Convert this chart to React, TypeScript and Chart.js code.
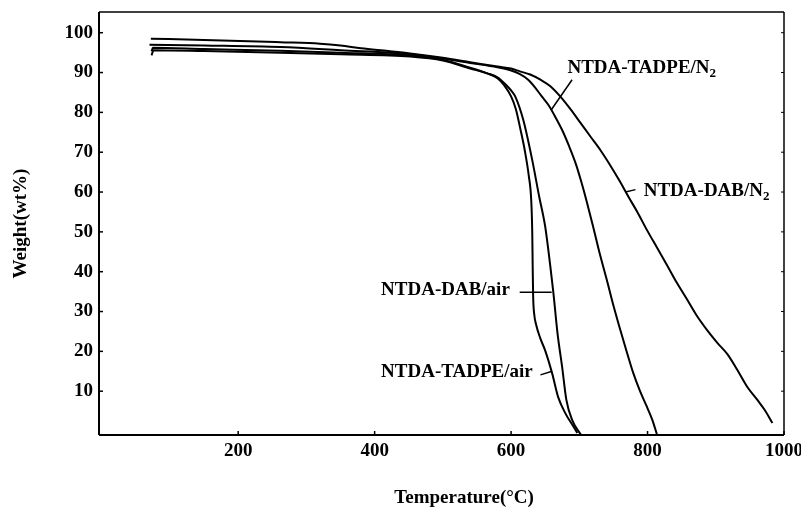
import React, { useEffect, useRef } from "react";
import { Chart, registerables } from "chart.js";

Chart.register(...registerables);

const FONT = '"Liberation Serif", "Times New Roman", serif';

// Axis ticks
const xTicks = [200, 400, 600, 800, 1000];
const yTicks = [10, 20, 30, 40, 50, 60, 70, 80, 90, 100];

// NTDA-DAB/N2
const dabN2X = [72, 150, 262, 320, 350, 380, 420, 452, 500, 540, 580, 600, 613, 628, 643, 658, 672, 687, 702, 716, 731, 745, 760, 772, 785, 799, 814, 829, 843, 858, 872, 887, 902, 917, 931, 946, 961, 972, 983];
const dabN2Y = [98.5, 98.2, 97.6, 97.25, 96.8, 96.1, 95.4, 94.8, 93.7, 92.6, 91.5, 91.0, 90.3, 89.5, 88.2, 86.5, 84.0, 80.8, 77.3, 74.0, 70.5, 66.8, 62.5, 58.8, 55.0, 50.5, 46.0, 41.5, 37.2, 33.0, 29.0, 25.4, 22.2, 19.3, 15.5, 11.1, 7.8, 5.2, 2.0];

// NTDA-TADPE/N2
const tadpeN2X = [70, 150, 262, 350, 452, 500, 540, 580, 600, 613, 625, 635, 645, 655, 665, 675, 685, 695, 703, 711, 720, 730, 741, 750, 760, 770, 779, 789, 799, 807, 814];
const tadpeN2Y = [97.0, 96.8, 96.4, 95.6, 94.6, 93.5, 92.4, 91.3, 90.5, 89.6, 88.2, 86.3, 84.0, 81.8, 78.8, 75.5, 71.5, 67.0, 62.5, 57.5, 51.5, 44.5, 37.5, 31.5, 25.4, 19.6, 14.6, 10.0, 6.1, 2.8, -1.0];

// NTDA-DAB/air
const dabAirX = [73, 75, 150, 262, 350, 452, 500, 540, 565, 580, 592, 600, 606, 618, 631, 641, 650, 657.6, 662, 668, 674.8, 681, 689.4, 702.6];
const dabAirY = [95.3, 96.2, 95.9, 95.5, 95.0, 94.3, 93.2, 91.2, 89.8, 88.8, 87.0, 85.5, 84.0, 78.0, 68.0, 59.0, 51.3, 41.2, 34.7, 24.6, 16.1, 7.8, 2.8, -1.0];

// NTDA-TADPE/air
const tadpeAirX = [73, 76, 150, 262, 350, 452, 500, 540, 565, 580, 590, 600, 607, 614, 620, 626, 629.5, 631, 631.6, 632.3, 633.8, 637, 643, 650, 660, 669, 680, 690, 697];
const tadpeAirY = [94.3, 95.6, 95.4, 95.0, 94.6, 94.0, 93.0, 91.0, 89.8, 88.6, 86.8, 84.0, 80.8, 75.5, 70.5, 64.0, 58.0, 50.0, 42.0, 34.0, 29.5, 26.5, 23.2, 20.2, 14.6, 8.5, 4.3, 1.5, -0.5];

const seriesNames = ["NTDA-DAB/N2", "NTDA-TADPE/N2", "NTDA-DAB/air", "NTDA-TADPE/air"];
const seriesX = [dabN2X, tadpeN2X, dabAirX, tadpeAirX];
const seriesY = [dabN2Y, tadpeN2Y, dabAirY, tadpeAirY];

// Curve labels: text, subscript, anchor (data units), leader line (data units)
const labelTexts = ["NTDA-TADPE/N", "NTDA-DAB/N", "NTDA-DAB/air", "NTDA-TADPE/air"];
const labelSubs = ["2", "2", "", ""];
const labelAnchorX = [682.6, 794.4, 409.4, 409.4];
const labelAnchorY = [90.0, 58.9, 34.2, 13.5];
const leaderFromX = [689.4, 782.3, 612.6, 643.0];
const leaderFromY = [88.2, 60.6, 34.85, 14.1];
const leaderToX = [658.7, 767.6, 659.5, 660.0];
const leaderToY = [80.6, 60.0, 34.85, 15.0];

const xTitle = "Temperature(°C)";
const yTitle = "Weight(wt%)";

const decorPlugin = {
  id: "decor",
  afterDraw(chart: any) {
    const { ctx, chartArea: ca, scales } = chart;
    const xs = scales.x;
    const ys = scales.y;
    ctx.save();
    ctx.strokeStyle = "#000";
    ctx.fillStyle = "#000";
    const line = (x1: number, y1: number, x2: number, y2: number, w: number) => {
      ctx.lineWidth = w;
      ctx.beginPath();
      ctx.moveTo(x1, y1);
      ctx.lineTo(x2, y2);
      ctx.stroke();
    };
    // frame
    line(ca.left, ca.top, ca.left, ca.bottom, 2);
    line(ca.left, ca.bottom, ca.right, ca.bottom, 2);
    line(ca.left, ca.top, ca.right, ca.top, 1.5);
    line(ca.right, ca.top, ca.right, ca.bottom, 1.5);
    // inward ticks
    yTicks.forEach((v) => {
      const py = ys.getPixelForValue(v);
      line(ca.left, py, ca.left + 4, py, 1.5);
      line(ca.right - 3, py, ca.right, py, 1);
    });
    xTicks.forEach((v) => {
      const px = xs.getPixelForValue(v);
      line(px, ca.bottom, px, ca.bottom - 4, 1.5);
    });
    // curve labels
    ctx.textBaseline = "alphabetic";
    ctx.textAlign = "left";
    labelTexts.forEach((t, i) => {
      const px = xs.getPixelForValue(labelAnchorX[i]);
      const py = ys.getPixelForValue(labelAnchorY[i]);
      ctx.font = `bold 19px ${FONT}`;
      ctx.fillText(t, px, py);
      if (labelSubs[i]) {
        const w = ctx.measureText(t).width;
        ctx.font = `bold 13px ${FONT}`;
        ctx.fillText(labelSubs[i], px + w, py + 4);
      }
      line(
        xs.getPixelForValue(leaderFromX[i]),
        ys.getPixelForValue(leaderFromY[i]),
        xs.getPixelForValue(leaderToX[i]),
        ys.getPixelForValue(leaderToY[i]),
        1.5
      );
    });
    // x axis title
    ctx.font = `bold 19px ${FONT}`;
    ctx.textAlign = "center";
    ctx.textBaseline = "alphabetic";
    ctx.fillText(xTitle, ca.left + (ca.right - ca.left) * 0.533, 503);
    ctx.restore();
  },
};

export default function App() {
  const canvasRef = useRef<HTMLCanvasElement | null>(null);

  useEffect(() => {
    if (!canvasRef.current) return;
    const tickFont = { family: FONT, size: 19, weight: "bold" as const };
    const chart = new Chart(canvasRef.current, {
      type: "line",
      data: {
        datasets: seriesNames.map((name, i) => ({
          label: name,
          data: seriesX[i].map((x, j) => ({ x, y: seriesY[i][j] })),
          borderColor: "#000",
          backgroundColor: "#000",
          borderWidth: 2,
          pointRadius: 0,
          fill: false,
          cubicInterpolationMode: "monotone" as const,
        })),
      },
      options: {
        animation: false,
        responsive: false,
        maintainAspectRatio: false,
        devicePixelRatio: 1,
        layout: { padding: { top: 12, right: 17, left: 0, bottom: 0 } },
        plugins: {
          legend: { display: false },
          tooltip: { enabled: false },
        },
        scales: {
          x: {
            type: "linear",
            min: -4,
            max: 1000,
            grid: { display: false, drawTicks: false },
            border: { display: false },
            ticks: {
              font: tickFont,
              color: "#000",
              padding: 5,
              autoSkip: false,
              maxRotation: 0,
              callback: (v: any) => String(v),
            },
            afterBuildTicks: (s: any) => {
              s.ticks = xTicks.map((v) => ({ value: v }));
            },
            afterFit: (s: any) => {
              s.height = 73;
              s.paddingLeft = 0;
              s.paddingRight = 0;
            },
          },
          y: {
            type: "linear",
            min: -1,
            max: 105.2,
            grid: { display: false, drawTicks: false },
            border: { display: false },
            ticks: {
              font: tickFont,
              color: "#000",
              padding: 6,
              autoSkip: false,
              callback: (v: any) => String(v),
            },
            title: {
              display: true,
              text: yTitle,
              color: "#000",
              font: { family: FONT, size: 19, weight: "bold" as const },
              padding: { top: 10, bottom: 0 },
            },
            afterBuildTicks: (s: any) => {
              s.ticks = yTicks.map((v) => ({ value: v }));
            },
            afterFit: (s: any) => {
              s.width = 99;
              s.paddingTop = 0;
              s.paddingBottom = 0;
            },
          },
        },
      },
      plugins: [decorPlugin],
    });
    return () => chart.destroy();
  }, []);

  return (
    <div style={{ position: "absolute", left: 0, top: 0, width: 801, height: 508, background: "#fff" }}>
      <canvas ref={canvasRef} width={801} height={508} />
    </div>
  );
}
